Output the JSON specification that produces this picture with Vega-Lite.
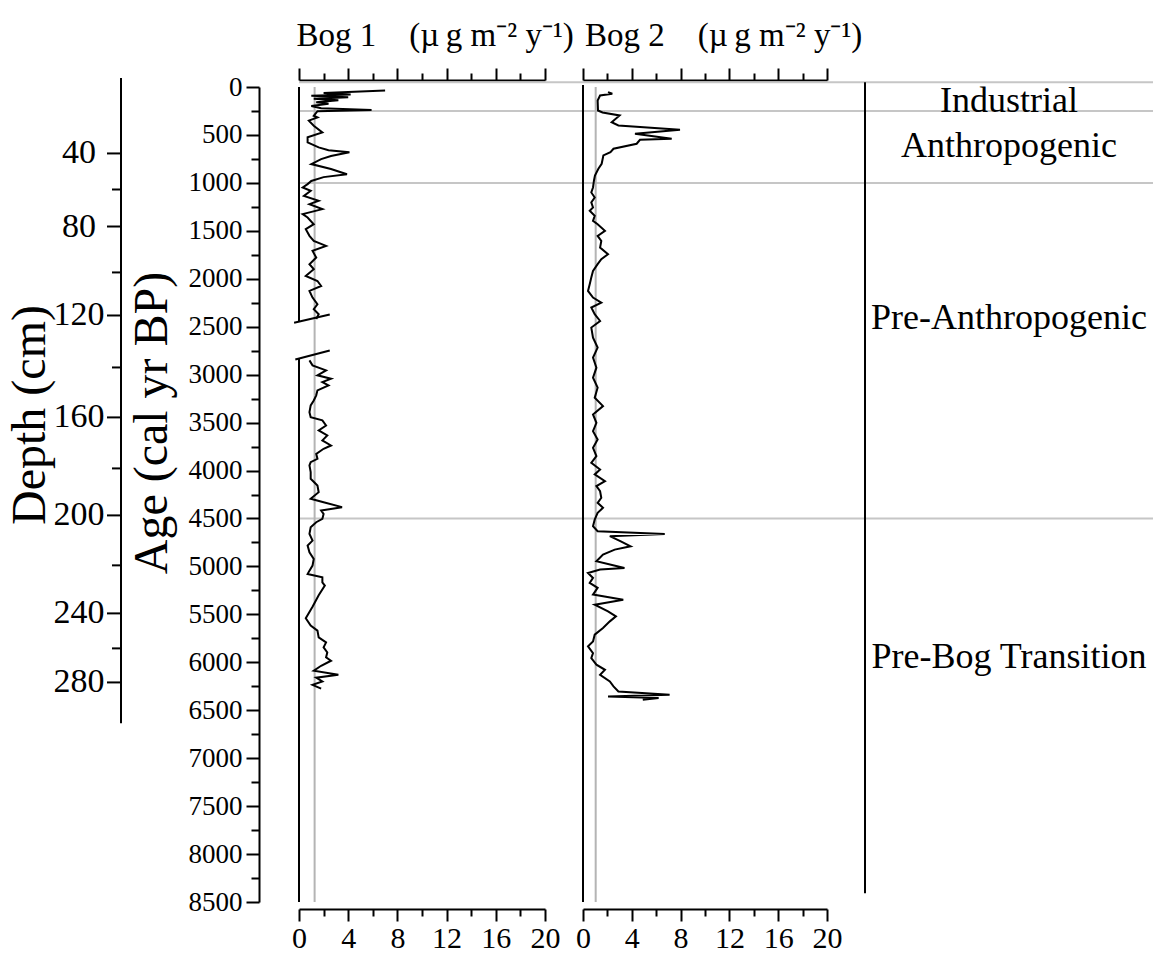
{
  "$schema": "https://vega.github.io/schema/vega-lite/v6.json",
  "background": "white",
  "padding": {"left": 6, "top": 19, "right": 0, "bottom": 0},
  "bounds": "flush",
  "spacing": 38,
  "config": {
    "font": "Liberation Serif",
    "view": {"stroke": null},
    "axis": {"domainColor": "black", "domainWidth": 2, "tickColor": "black", "tickWidth": 2, "labelColor": "black", "titleColor": "black", "titleFontWeight": "normal", "grid": false, "labelFont": "Liberation Serif", "titleFont": "Liberation Serif", "labelOverlap": false, "labelFlush": false},
    "text": {"font": "Liberation Serif", "color": "black"}
  },
  "datasets": {
    "depthScale": [
      {"depth": 0, "age": -94}, {"depth": 40, "age": 693}, {"depth": 60, "age": 1069}, {"depth": 80, "age": 1455},
      {"depth": 100, "age": 1934}, {"depth": 120, "age": 2383}, {"depth": 140, "age": 2925}, {"depth": 160, "age": 3446},
      {"depth": 180, "age": 3978}, {"depth": 200, "age": 4468}, {"depth": 220, "age": 4989}, {"depth": 240, "age": 5490},
      {"depth": 260, "age": 5855}, {"depth": 280, "age": 6210}, {"depth": 300, "age": 6637}
    ],
    "zones": [{"age": -50}, {"age": 250}, {"age": 1000}, {"age": 4500}],
    "zoneLabels": [
      {"zone": "Industrial", "age": 151}, {"zone": "Anthropogenic", "age": 620},
      {"zone": "Pre-Anthropogenic", "age": 2414}, {"zone": "Pre-Bog Transition", "age": 5949}
    ],
    "means": [{"bog": "Bog 1", "mean": 1.27}, {"bog": "Bog 2", "mean": 1.04}],
    "bog1Frame": [{"from": 0, "to": 2450}, {"from": 2835, "to": 8500}],
    "bog1Breaks": [{"v0": -0.4, "v1": 2.5, "a0": 2459, "a1": 2372}, {"v0": -0.3, "v1": 2.5, "a0": 2842, "a1": 2748}],
    "bog1": [
      {"age": 37, "value": 7.0, "part": "a"}, {"age": 62, "value": 2.0, "part": "a"}, {"age": 78, "value": 4.2, "part": "a"},
      {"age": 92, "value": 1.0, "part": "a"}, {"age": 108, "value": 4.0, "part": "a"}, {"age": 122, "value": 1.2, "part": "a"},
      {"age": 138, "value": 3.2, "part": "a"}, {"age": 158, "value": 1.4, "part": "a"}, {"age": 175, "value": 2.4, "part": "a"},
      {"age": 198, "value": 1.0, "part": "a"}, {"age": 222, "value": 1.8, "part": "a"}, {"age": 240, "value": 5.9, "part": "a"},
      {"age": 252, "value": 1.5, "part": "a"}, {"age": 300, "value": 1.2, "part": "a"}, {"age": 317, "value": 1.5, "part": "a"},
      {"age": 351, "value": 0.8, "part": "a"}, {"age": 404, "value": 1.2, "part": "a"}, {"age": 474, "value": 1.9, "part": "a"},
      {"age": 525, "value": 0.7, "part": "a"}, {"age": 578, "value": 0.7, "part": "a"}, {"age": 630, "value": 1.6, "part": "a"},
      {"age": 660, "value": 2.4, "part": "a"}, {"age": 680, "value": 4.1, "part": "a"}, {"age": 720, "value": 2.6, "part": "a"},
      {"age": 752, "value": 1.8, "part": "a"}, {"age": 804, "value": 1.0, "part": "a"}, {"age": 856, "value": 2.6, "part": "a"},
      {"age": 910, "value": 3.9, "part": "a"}, {"age": 940, "value": 2.0, "part": "a"}, {"age": 980, "value": 1.0, "part": "a"},
      {"age": 1013, "value": 0.7, "part": "a"}, {"age": 1048, "value": 0.3, "part": "a"}, {"age": 1083, "value": 0.95, "part": "a"},
      {"age": 1135, "value": 0.4, "part": "a"}, {"age": 1187, "value": 1.6, "part": "a"}, {"age": 1222, "value": 0.85, "part": "a"},
      {"age": 1274, "value": 1.9, "part": "a"}, {"age": 1326, "value": 0.3, "part": "a"}, {"age": 1361, "value": 0.7, "part": "a"},
      {"age": 1431, "value": 1.2, "part": "a"}, {"age": 1483, "value": 0.55, "part": "a"}, {"age": 1552, "value": 0.85, "part": "a"},
      {"age": 1605, "value": 1.2, "part": "a"}, {"age": 1657, "value": 2.2, "part": "a"}, {"age": 1709, "value": 1.1, "part": "a"},
      {"age": 1779, "value": 1.4, "part": "a"}, {"age": 1848, "value": 0.85, "part": "a"}, {"age": 1900, "value": 1.2, "part": "a"},
      {"age": 1970, "value": 0.55, "part": "a"}, {"age": 2023, "value": 1.5, "part": "a"}, {"age": 2075, "value": 1.8, "part": "a"},
      {"age": 2127, "value": 0.85, "part": "a"}, {"age": 2196, "value": 1.1, "part": "a"}, {"age": 2266, "value": 1.5, "part": "a"},
      {"age": 2318, "value": 1.2, "part": "a"}, {"age": 2370, "value": 1.6, "part": "a"}, {"age": 2420, "value": 1.4, "part": "a"},
      {"age": 2851, "value": 0.85, "part": "b"}, {"age": 2903, "value": 1.1, "part": "b"}, {"age": 2955, "value": 2.2, "part": "b"},
      {"age": 3007, "value": 1.5, "part": "b"}, {"age": 3042, "value": 2.6, "part": "b"}, {"age": 3077, "value": 1.9, "part": "b"},
      {"age": 3112, "value": 2.4, "part": "b"}, {"age": 3164, "value": 1.5, "part": "b"}, {"age": 3216, "value": 1.4, "part": "b"},
      {"age": 3269, "value": 1.2, "part": "b"}, {"age": 3321, "value": 0.95, "part": "b"}, {"age": 3391, "value": 0.85, "part": "b"},
      {"age": 3443, "value": 0.95, "part": "b"}, {"age": 3477, "value": 1.9, "part": "b"}, {"age": 3530, "value": 2.2, "part": "b"},
      {"age": 3582, "value": 1.6, "part": "b"}, {"age": 3634, "value": 2.3, "part": "b"}, {"age": 3686, "value": 1.9, "part": "b"},
      {"age": 3739, "value": 2.6, "part": "b"}, {"age": 3773, "value": 2.0, "part": "b"}, {"age": 3826, "value": 1.4, "part": "b"},
      {"age": 3878, "value": 1.5, "part": "b"}, {"age": 3913, "value": 0.95, "part": "b"}, {"age": 3947, "value": 0.85, "part": "b"},
      {"age": 4017, "value": 0.95, "part": "b"}, {"age": 4086, "value": 0.95, "part": "b"}, {"age": 4156, "value": 1.5, "part": "b"},
      {"age": 4226, "value": 1.6, "part": "b"}, {"age": 4295, "value": 0.95, "part": "b"}, {"age": 4330, "value": 2.0, "part": "b"},
      {"age": 4382, "value": 3.5, "part": "b"}, {"age": 4417, "value": 1.8, "part": "b"}, {"age": 4452, "value": 2.0, "part": "b"},
      {"age": 4504, "value": 1.9, "part": "b"}, {"age": 4539, "value": 1.4, "part": "b"}, {"age": 4592, "value": 0.95, "part": "b"},
      {"age": 4661, "value": 0.85, "part": "b"}, {"age": 4731, "value": 1.1, "part": "b"}, {"age": 4783, "value": 0.7, "part": "b"},
      {"age": 4852, "value": 0.85, "part": "b"}, {"age": 4922, "value": 1.2, "part": "b"}, {"age": 4992, "value": 1.1, "part": "b"},
      {"age": 5044, "value": 0.85, "part": "b"}, {"age": 5079, "value": 0.7, "part": "b"}, {"age": 5114, "value": 1.9, "part": "b"},
      {"age": 5166, "value": 1.9, "part": "b"}, {"age": 5200, "value": 2.1, "part": "b"}, {"age": 5300, "value": 1.6, "part": "b"},
      {"age": 5420, "value": 1.1, "part": "b"}, {"age": 5540, "value": 0.55, "part": "b"}, {"age": 5618, "value": 0.95, "part": "b"},
      {"age": 5670, "value": 1.5, "part": "b"}, {"age": 5740, "value": 1.6, "part": "b"}, {"age": 5792, "value": 2.2, "part": "b"},
      {"age": 5844, "value": 2.0, "part": "b"}, {"age": 5897, "value": 2.3, "part": "b"}, {"age": 5949, "value": 2.2, "part": "b"},
      {"age": 5984, "value": 2.6, "part": "b"}, {"age": 6036, "value": 1.8, "part": "b"}, {"age": 6088, "value": 1.2, "part": "b"},
      {"age": 6130, "value": 3.2, "part": "b"}, {"age": 6160, "value": 1.4, "part": "b"}, {"age": 6200, "value": 1.9, "part": "b"},
      {"age": 6235, "value": 1.1, "part": "b"}, {"age": 6275, "value": 1.8, "part": "b"}
    ],
    "bog2": [
      {"age": 54, "value": 2.05}, {"age": 71, "value": 2.4}, {"age": 89, "value": 1.4}, {"age": 141, "value": 1.2},
      {"age": 245, "value": 1.23}, {"age": 266, "value": 1.6}, {"age": 297, "value": 3.0}, {"age": 367, "value": 2.35},
      {"age": 401, "value": 2.9}, {"age": 447, "value": 7.95}, {"age": 488, "value": 4.26}, {"age": 540, "value": 7.27},
      {"age": 551, "value": 4.67}, {"age": 592, "value": 4.4}, {"age": 644, "value": 2.5}, {"age": 680, "value": 2.25},
      {"age": 714, "value": 1.67}, {"age": 801, "value": 1.53}, {"age": 853, "value": 1.26}, {"age": 923, "value": 0.98},
      {"age": 975, "value": 0.9}, {"age": 1048, "value": 0.82}, {"age": 1100, "value": 0.68}, {"age": 1152, "value": 0.96},
      {"age": 1204, "value": 0.68}, {"age": 1256, "value": 0.82}, {"age": 1291, "value": 0.55}, {"age": 1344, "value": 0.96},
      {"age": 1396, "value": 0.82}, {"age": 1431, "value": 1.2}, {"age": 1500, "value": 1.8}, {"age": 1553, "value": 1.2},
      {"age": 1605, "value": 1.5}, {"age": 1674, "value": 1.4}, {"age": 1744, "value": 2.05}, {"age": 1796, "value": 1.5},
      {"age": 1848, "value": 1.2}, {"age": 1918, "value": 0.82}, {"age": 1987, "value": 0.68}, {"age": 2057, "value": 0.55},
      {"age": 2127, "value": 0.41}, {"age": 2196, "value": 0.82}, {"age": 2248, "value": 1.5}, {"age": 2300, "value": 0.68},
      {"age": 2370, "value": 0.96}, {"age": 2440, "value": 1.4}, {"age": 2509, "value": 0.68}, {"age": 2614, "value": 0.82},
      {"age": 2718, "value": 1.2}, {"age": 2823, "value": 0.82}, {"age": 2927, "value": 1.1}, {"age": 3032, "value": 0.82},
      {"age": 3136, "value": 1.2}, {"age": 3241, "value": 0.96}, {"age": 3328, "value": 1.64}, {"age": 3415, "value": 0.82},
      {"age": 3502, "value": 1.1}, {"age": 3589, "value": 0.82}, {"age": 3676, "value": 1.2}, {"age": 3763, "value": 0.82},
      {"age": 3850, "value": 1.1}, {"age": 3919, "value": 0.68}, {"age": 3989, "value": 1.4}, {"age": 4041, "value": 0.96},
      {"age": 4111, "value": 1.8}, {"age": 4163, "value": 1.1}, {"age": 4216, "value": 1.4}, {"age": 4285, "value": 1.5},
      {"age": 4337, "value": 1.2}, {"age": 4389, "value": 1.64}, {"age": 4441, "value": 1.2}, {"age": 4511, "value": 0.96},
      {"age": 4581, "value": 0.82}, {"age": 4633, "value": 1.2}, {"age": 4661, "value": 6.7}, {"age": 4685, "value": 2.2},
      {"age": 4738, "value": 3.1}, {"age": 4790, "value": 3.9}, {"age": 4825, "value": 2.6}, {"age": 4877, "value": 1.64},
      {"age": 4946, "value": 1.1}, {"age": 5016, "value": 3.4}, {"age": 5033, "value": 1.4}, {"age": 5068, "value": 0.41},
      {"age": 5120, "value": 0.82}, {"age": 5172, "value": 0.55}, {"age": 5224, "value": 1.2}, {"age": 5294, "value": 0.82},
      {"age": 5347, "value": 3.3}, {"age": 5399, "value": 0.96}, {"age": 5469, "value": 2.05}, {"age": 5521, "value": 2.7},
      {"age": 5573, "value": 2.2}, {"age": 5642, "value": 1.64}, {"age": 5712, "value": 0.96}, {"age": 5782, "value": 0.82},
      {"age": 5834, "value": 0.41}, {"age": 5904, "value": 0.82}, {"age": 5956, "value": 0.68}, {"age": 6025, "value": 1.1},
      {"age": 6078, "value": 1.8}, {"age": 6130, "value": 1.4}, {"age": 6200, "value": 2.2}, {"age": 6252, "value": 2.5},
      {"age": 6304, "value": 2.9}, {"age": 6339, "value": 7.1}, {"age": 6356, "value": 2.05}, {"age": 6373, "value": 6.2},
      {"age": 6391, "value": 4.9}
    ]
  },
  "hconcat": [
    {
      "width": 140,
      "height": 815,
      "data": {"name": "depthScale"},
      "resolve": {"axis": {"y": "independent"}},
      "layer": [
        {
          "mark": {"type": "line", "color": "black", "strokeWidth": 2},
          "encoding": {
            "x": {"datum": 0, "type": "quantitative", "scale": {"domain": [0, 1]}, "axis": null},
            "y": {"field": "age", "type": "quantitative", "scale": {"domain": [0, 8500], "reverse": true, "nice": false, "zero": false},
              "axis": {"title": "Depth (cm)", "labels": false, "ticks": false, "domain": false, "titleFontSize": 48, "titleX": -77, "titleY": 327.5, "titleAngle": 270, "titleAlign": "center", "titleBaseline": "alphabetic"}},
            "order": {"field": "age", "type": "quantitative"}
          }
        },
        {
          "transform": [{"filter": "datum.depth >= 40 && datum.depth <= 280 && datum.depth % 40 === 0"}],
          "mark": {"type": "rule", "color": "black", "strokeWidth": 2, "x2Offset": -14},
          "encoding": {
            "x": {"datum": 0, "type": "quantitative", "axis": null},
            "x2": {"datum": 0},
            "y": {"field": "age", "type": "quantitative", "axis": null}
          }
        },
        {
          "transform": [{"filter": "datum.depth >= 40 && datum.depth <= 280 && datum.depth % 40 === 20"}],
          "mark": {"type": "rule", "color": "black", "strokeWidth": 2, "x2Offset": -9},
          "encoding": {
            "x": {"datum": 0, "type": "quantitative", "axis": null},
            "x2": {"datum": 0},
            "y": {"field": "age", "type": "quantitative", "axis": null}
          }
        },
        {
          "transform": [{"filter": "datum.depth >= 40 && datum.depth <= 280 && datum.depth % 40 === 0"}],
          "mark": {"type": "text", "fontSize": 34, "align": "center", "baseline": "middle", "xOffset": -42},
          "encoding": {
            "x": {"datum": 0, "type": "quantitative", "axis": null},
            "y": {"field": "age", "type": "quantitative", "axis": null},
            "text": {"field": "depth", "type": "quantitative"}
          }
        }
      ]
    },
    {
      "width": 246,
      "height": 815,
      "resolve": {"axis": {"x": "independent", "y": "independent"}},
      "layer": [
        {
          "data": {"name": "zones"},
          "mark": {"type": "rule", "color": "#c6c6c6", "strokeWidth": 2, "x2Offset": 38},
          "encoding": {
            "x": {"datum": 0, "type": "quantitative", "scale": {"domain": [0, 20], "nice": false, "zero": false}, "axis": null},
            "x2": {"datum": 20},
            "y": {"field": "age", "type": "quantitative", "scale": {"domain": [0, 8500], "reverse": true, "nice": false, "zero": false}, "axis": null}
          }
        },
        {
          "data": {"name": "means"},
          "transform": [{"filter": "datum.bog === 'Bog 1'"}],
          "mark": {"type": "rule", "color": "#b4b4b4", "strokeWidth": 2},
          "encoding": {
            "x": {"field": "mean", "type": "quantitative", "scale": {"domain": [0, 20], "nice": false, "zero": false},
              "axis": {"orient": "top", "offset": 7, "values": [0, 2, 4, 6, 8, 10, 12, 14, 16, 18, 20], "labels": false,
                "tickSize": {"condition": {"test": "datum.value % 4 === 0", "value": 12}, "value": 7},
                "title": "Bog 1\u00a0\u00a0\u00a0\u00a0(µ\u2009g m⁻² y⁻¹)", "titleFontSize": 33, "titleAnchor": "start", "titleAlign": "left", "titleBaseline": "alphabetic", "titleAngle": 0, "titleX": -3, "titleY": -35}},
            "y": {"datum": 0, "type": "quantitative", "axis": null},
            "y2": {"datum": 8500}
          }
        },
        {
          "data": {"name": "bog1Frame"},
          "mark": {"type": "rule", "color": "black", "strokeWidth": 2},
          "encoding": {
            "x": {"datum": 0, "type": "quantitative", "axis": null},
            "y": {"field": "from", "type": "quantitative", "axis": null},
            "y2": {"field": "to"}
          }
        },
        {
          "data": {"name": "bog1Breaks"},
          "mark": {"type": "rule", "color": "black", "strokeWidth": 2},
          "encoding": {
            "x": {"field": "v0", "type": "quantitative", "axis": null},
            "x2": {"field": "v1"},
            "y": {"field": "a0", "type": "quantitative", "axis": null},
            "y2": {"field": "a1"}
          }
        },
        {
          "data": {"name": "bog1"},
          "mark": {"type": "line", "color": "black", "strokeWidth": 2},
          "encoding": {
            "x": {"field": "value", "type": "quantitative", "scale": {"domain": [0, 20], "nice": false, "zero": false},
              "axis": {"orient": "bottom", "offset": 7, "values": [0, 2, 4, 6, 8, 10, 12, 14, 16, 18, 20],
                "labelExpr": "datum.value % 4 === 0 ? datum.label : ''",
                "tickSize": {"condition": {"test": "datum.value % 4 === 0", "value": 12}, "value": 7},
                "labelFontSize": 30, "labelPadding": 2, "title": null}},
            "y": {"field": "age", "type": "quantitative", "scale": {"domain": [0, 8500], "reverse": true, "nice": false, "zero": false},
              "axis": {"orient": "left", "offset": 40,
                "values": [0, 250, 500, 750, 1000, 1250, 1500, 1750, 2000, 2250, 2500, 2750, 3000, 3250, 3500, 3750, 4000, 4250, 4500, 4750, 5000, 5250, 5500, 5750, 6000, 6250, 6500, 6750, 7000, 7250, 7500, 7750, 8000, 8250, 8500],
                "format": "d",
                "labelExpr": "datum.value % 500 === 0 ? datum.label : ''",
                "tickSize": {"condition": {"test": "datum.value % 500 === 0", "value": 13}, "value": 8},
                "labelFontSize": 27, "labelPadding": 4, "labelBaseline": "middle",
                "title": "Age (cal yr BP)", "titleFontSize": 48, "titleX": -92.5, "titleY": 335.5, "titleAngle": 270, "titleAlign": "center", "titleBaseline": "alphabetic"}},
            "order": {"field": "age", "type": "quantitative"},
            "detail": {"field": "part", "type": "nominal"}
          }
        }
      ]
    },
    {
      "width": 244,
      "height": 815,
      "resolve": {"axis": {"x": "independent"}},
      "layer": [
        {
          "data": {"name": "zones"},
          "mark": {"type": "rule", "color": "#c6c6c6", "strokeWidth": 2, "x2Offset": 38},
          "encoding": {
            "x": {"datum": 0, "type": "quantitative", "scale": {"domain": [0, 20], "nice": false, "zero": false}, "axis": null},
            "x2": {"datum": 20},
            "y": {"field": "age", "type": "quantitative", "scale": {"domain": [0, 8500], "reverse": true, "nice": false, "zero": false}, "axis": null}
          }
        },
        {
          "data": {"name": "means"},
          "transform": [{"filter": "datum.bog === 'Bog 2'"}],
          "mark": {"type": "rule", "color": "#b4b4b4", "strokeWidth": 2},
          "encoding": {
            "x": {"field": "mean", "type": "quantitative", "scale": {"domain": [0, 20], "nice": false, "zero": false},
              "axis": {"orient": "top", "offset": 7, "values": [0, 2, 4, 6, 8, 10, 12, 14, 16, 18, 20], "labels": false,
                "tickSize": {"condition": {"test": "datum.value % 4 === 0", "value": 12}, "value": 7},
                "title": "Bog 2\u00a0\u00a0\u00a0\u00a0(µ\u2009g m⁻² y⁻¹)", "titleFontSize": 33, "titleAnchor": "start", "titleAlign": "left", "titleBaseline": "alphabetic", "titleAngle": 0, "titleX": 1.5, "titleY": -35}},
            "y": {"datum": 0, "type": "quantitative", "axis": null},
            "y2": {"datum": 8500}
          }
        },
        {
          "data": {"name": "means"},
          "transform": [{"filter": "datum.bog === 'Bog 2'"}],
          "mark": {"type": "rule", "color": "black", "strokeWidth": 2},
          "encoding": {
            "x": {"datum": 0, "type": "quantitative", "axis": null},
            "y": {"datum": -20, "type": "quantitative", "axis": null},
            "y2": {"datum": 8500}
          }
        },
        {
          "data": {"name": "bog2"},
          "mark": {"type": "line", "color": "black", "strokeWidth": 2},
          "encoding": {
            "x": {"field": "value", "type": "quantitative", "scale": {"domain": [0, 20], "nice": false, "zero": false},
              "axis": {"orient": "bottom", "offset": 7, "values": [0, 2, 4, 6, 8, 10, 12, 14, 16, 18, 20],
                "labelExpr": "datum.value % 4 === 0 ? datum.label : ''",
                "tickSize": {"condition": {"test": "datum.value % 4 === 0", "value": 12}, "value": 7},
                "labelFontSize": 30, "labelPadding": 2, "title": null}},
            "y": {"field": "age", "type": "quantitative", "scale": {"domain": [0, 8500], "reverse": true, "nice": false, "zero": false}, "axis": null},
            "order": {"field": "age", "type": "quantitative"}
          }
        }
      ]
    },
    {
      "width": 288,
      "height": 815,
      "layer": [
        {
          "data": {"name": "zones"},
          "mark": {"type": "rule", "color": "#c6c6c6", "strokeWidth": 2},
          "encoding": {
            "x": {"datum": 0, "type": "quantitative", "scale": {"domain": [0, 1]}, "axis": null},
            "x2": {"datum": 1},
            "y": {"field": "age", "type": "quantitative", "scale": {"domain": [0, 8500], "reverse": true, "nice": false, "zero": false}, "axis": null}
          }
        },
        {
          "data": {"name": "zones"},
          "transform": [{"filter": "datum.age < 0"}],
          "mark": {"type": "rule", "color": "black", "strokeWidth": 2},
          "encoding": {
            "x": {"datum": 0, "type": "quantitative", "axis": null},
            "y": {"field": "age", "type": "quantitative", "axis": null},
            "y2": {"datum": 8410}
          }
        },
        {
          "data": {"name": "zoneLabels"},
          "mark": {"type": "text", "fontSize": 36, "align": "center", "baseline": "middle"},
          "encoding": {
            "x": {"datum": 0.5, "type": "quantitative", "axis": null},
            "y": {"field": "age", "type": "quantitative", "axis": null},
            "text": {"field": "zone", "type": "nominal"}
          }
        }
      ]
    }
  ]
}
